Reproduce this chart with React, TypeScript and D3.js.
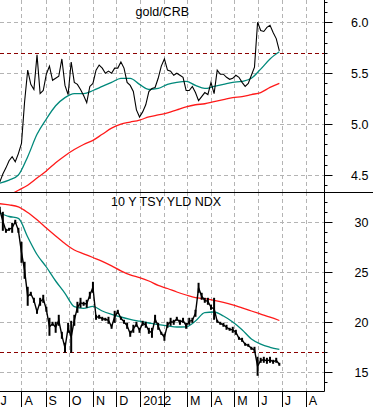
import React, { useEffect, useRef } from 'react';
import * as d3 from 'd3';

const size = { width: 373, height: 407 };
const plotRight = 324;
const topPanel = { top: 0, bottom: 192 };
const bottomPanel = { top: 192, bottom: 391 };

// daily series read every 4 calendar days from 4 Jul 2011, averages every 12 days
const seriesStart = { y: 2011, m: 6, d: 4 };
const dailyStep = 4;
const maStep = 12;

const goldCrb = [
  4.43, 4.51, 4.57, 4.64, 4.68, 4.63, 4.71, 4.81, 5.22, 5.53,
  5.39, 5.34, 5.68, 5.30, 5.33, 5.49, 5.57, 5.43, 5.45, 5.47,
  5.64, 5.38, 5.29, 5.61, 5.41, 5.39, 5.34, 5.28, 5.21, 5.37,
  5.40, 5.53, 5.58, 5.55, 5.50, 5.52, 5.50, 5.55, 5.55, 5.61,
  5.55, 5.41, 5.38, 5.32, 5.14, 5.07, 5.12, 5.19, 5.32, 5.35,
  5.36, 5.45, 5.57, 5.64, 5.53, 5.52, 5.48, 5.50, 5.48, 5.46,
  5.33, 5.33, 5.37, 5.31, 5.23, 5.27, 5.31, 5.29, 5.41, 5.30,
  5.53, 5.49, 5.49, 5.46, 5.44, 5.45, 5.48, 5.46, 5.41, 5.37,
  5.40, 5.48, 5.56, 6.00, 5.92, 5.91, 5.95, 5.97, 5.90, 5.84,
  5.72,
];
const goldCrbMa50 = [
  4.42, 4.45, 4.50, 4.68, 4.90, 5.05, 5.18, 5.26, 5.30, 5.30,
  5.33, 5.37, 5.41, 5.45, 5.45, 5.39, 5.34, 5.35, 5.39, 5.41,
  5.42, 5.38, 5.35, 5.37, 5.39, 5.41, 5.42, 5.45, 5.54, 5.64,
  5.71,
];
const goldCrbMa200 = [
  null, 4.30, 4.35, 4.40, 4.47, 4.54, 4.62, 4.69, 4.75, 4.80,
  4.84, 4.90, 4.96, 5.00, 5.02, 5.04, 5.07, 5.09, 5.11, 5.14,
  5.17, 5.19, 5.20, 5.22, 5.24, 5.26, 5.27, 5.29, 5.31, 5.36,
  5.40,
];

const tsyHigh = [
  31.5, 31.0, 29.3, 29.4, 29.9, 30.2, 29.4, 28.0, 26.0, 23.5,
  23.0, 22.4, 21.2, 22.4, 22.7, 21.5, 20.4, 20.0, 20.0, 20.7,
  19.0, 17.9, 19.9, 20.1, 20.7, 22.0, 22.4, 22.0, 22.2, 23.0,
  24.0, 20.7, 20.7, 20.5, 20.4, 20.5, 19.7, 21.1, 21.2, 20.5,
  20.2, 19.9, 19.1, 19.7, 20.0, 19.4, 20.1, 20.0, 19.4, 19.4,
  20.7, 19.9, 19.0, 18.8, 20.0, 20.4, 20.2, 20.5, 20.2, 20.4,
  19.9, 20.4, 20.4, 21.2, 23.9, 22.9, 22.4, 22.4, 21.7, 22.4,
  20.2, 20.0, 19.9, 19.7, 19.4, 19.5, 19.2, 18.5, 18.4, 17.9,
  17.8, 17.5, 17.5, 16.5, 16.4, 16.5, 16.4, 16.5, 16.2, 16.4,
  15.9,
];
const tsyLow = [
  31.0, 29.2, 29.0, 29.2, 29.0, 29.9, 29.0, 26.0, 24.4, 21.7,
  22.7, 22.0, 20.9, 21.7, 22.0, 21.1, 18.7, 19.7, 19.0, 19.7,
  18.4, 17.0, 19.0, 17.0, 19.7, 21.0, 21.5, 21.7, 21.5, 22.4,
  23.0, 20.3, 20.4, 20.2, 20.2, 19.9, 19.4, 20.0, 20.9, 20.3,
  19.9, 19.4, 18.6, 19.0, 19.6, 19.0, 19.7, 19.5, 18.9, 18.5,
  20.0, 19.3, 18.8, 18.2, 19.5, 19.7, 19.8, 20.2, 19.8, 20.0,
  19.4, 19.8, 20.0, 20.6, 23.0, 22.3, 22.0, 21.8, 21.3, 20.3,
  20.0, 19.8, 19.6, 19.3, 19.2, 19.0, 18.8, 18.3, 18.1, 17.7,
  17.6, 17.3, 17.0, 14.7, 16.0, 16.0, 15.9, 16.0, 15.9, 16.0,
  15.7,
];
const tsyMa50 = [
  30.93, 30.58, 30.40, 28.53, 26.78, 25.53, 24.13, 22.90, 21.57, 21.40,
  21.59, 21.13, 20.80, 20.53, 20.30, 20.11, 19.93, 19.76, 19.65, 19.53,
  19.55, 20.13, 20.97, 21.03, 20.63, 20.03, 19.26, 18.33, 17.81, 17.50,
  17.29,
];
const tsyMa200 = [
  31.86, 31.74, 31.55, 30.98, 30.25, 29.43, 28.63, 27.87, 27.23, 26.85,
  26.48, 26.10, 25.65, 25.15, 24.74, 24.47, 24.13, 23.69, 23.38, 23.03,
  22.73, 22.47, 22.36, 22.20, 22.00, 21.75, 21.44, 21.13, 20.82, 20.51,
  20.18,
];

const goldTicks = [4.5, 5.0, 5.5, 6.0];
const tsyTicks = [15, 20, 25, 30];
const goldLevel = 5.7;
const tsyLevel = 17;
const monthLabels = ['J', 'A', 'S', 'O', 'N', 'D', '2012', '', 'M', 'A', 'M', 'J', 'J', 'A'];

const font = 'Liberation Sans, Arial, sans-serif';
const gridColor = '#b4b4b4';
const maFastColor = '#00897b';
const maSlowColor = '#ff1a1a';
const levelColor = '#8b0000';

const dateAt = (i: number, step: number) => new Date(seriesStart.y, seriesStart.m, seriesStart.d + i * step);

function drawChart(svg: any) {
  const x = d3.scaleTime()
    .domain([new Date(2011, 6, 4, 8), new Date(2012, 7, 24, 12)])
    .range([0, plotRight]);
  const yGold = d3.scaleLinear().domain([4.5, 6.0]).range([175, 22.3]);
  const yTsy = d3.scaleLinear().domain([15, 30]).range([372.3, 222.3]);
  const months = d3.timeMonth.range(new Date(2011, 6, 1), new Date(2012, 8, 1));

  svg.append('rect').attr('width', size.width).attr('height', size.height).attr('fill', '#fff');

  const defs = svg.append('defs');
  defs.append('clipPath').attr('id', 'clip-top')
    .append('rect').attr('x', 0).attr('y', topPanel.top).attr('width', plotRight).attr('height', topPanel.bottom - topPanel.top);
  defs.append('clipPath').attr('id', 'clip-bottom')
    .append('rect').attr('x', 0).attr('y', bottomPanel.top).attr('width', plotRight).attr('height', bottomPanel.bottom - bottomPanel.top);

  const panels = [
    { key: 'top', panel: topPanel, y: yGold, ticks: goldTicks, minor: d3.range(44, 63).map(v => v / 10), level: goldLevel, fmt: d3.format('.1f') },
    { key: 'bottom', panel: bottomPanel, y: yTsy, ticks: tsyTicks, minor: d3.range(14, 33), level: tsyLevel, fmt: d3.format('d') },
  ];

  panels.forEach((p) => {
    const g = svg.append('g').attr('clip-path', `url(#clip-${p.key})`);
    // grid
    g.selectAll('.vgrid').data(months).enter().append('line')
      .attr('x1', (d: Date) => Math.round(x(d)) + 0.5).attr('x2', (d: Date) => Math.round(x(d)) + 0.5)
      .attr('y1', p.panel.top).attr('y2', p.panel.bottom)
      .attr('stroke', gridColor).attr('stroke-dasharray', '4,3');
    g.selectAll('.hgrid').data(p.ticks).enter().append('line')
      .attr('x1', 0).attr('x2', plotRight)
      .attr('y1', (d: number) => Math.round(p.y(d)) + 0.5).attr('y2', (d: number) => Math.round(p.y(d)) + 0.5)
      .attr('stroke', gridColor).attr('stroke-dasharray', '4,3');
    g.append('line')
      .attr('x1', 0).attr('x2', plotRight)
      .attr('y1', Math.round(p.y(p.level)) + 0.5).attr('y2', Math.round(p.y(p.level)) + 0.5)
      .attr('stroke', levelColor).attr('stroke-width', 1.2).attr('stroke-dasharray', '4,3');

    // right axis ticks + labels
    svg.selectAll(`.minor-${p.key}`).data(p.minor).enter().append('line')
      .attr('x1', plotRight).attr('x2', plotRight + 3.5)
      .attr('y1', (d: number) => Math.round(p.y(d)) + 0.5).attr('y2', (d: number) => Math.round(p.y(d)) + 0.5)
      .attr('stroke', '#000');
    svg.selectAll(`.major-${p.key}`).data(p.ticks).enter().append('line')
      .attr('x1', plotRight).attr('x2', plotRight + 8.5)
      .attr('y1', (d: number) => Math.round(p.y(d)) + 0.5).attr('y2', (d: number) => Math.round(p.y(d)) + 0.5)
      .attr('stroke', '#000');
    svg.selectAll(`.label-${p.key}`).data(p.ticks).enter().append('text')
      .attr('x', 368.5).attr('y', (d: number) => p.y(d) + 5)
      .attr('text-anchor', 'end')
      .style('font', `12.5px ${font}`)
      .attr('fill', '#000')
      .text((d: number) => p.fmt(d));
  });

  // top panel: gold/CRB
  const gTop = svg.append('g').attr('clip-path', 'url(#clip-top)');
  const maLine = (y: any) => d3.line<any>()
    .defined((d: number | null) => d !== null)
    .x((d: any, i: number) => x(dateAt(i, maStep)))
    .y((d: number) => y(d))
    .curve(d3.curveMonotoneX);

  gTop.append('path').datum(goldCrbMa200).attr('d', maLine(yGold))
    .attr('fill', 'none').attr('stroke', maSlowColor).attr('stroke-width', 1.3);
  gTop.append('path').datum(goldCrbMa50).attr('d', maLine(yGold))
    .attr('fill', 'none').attr('stroke', maFastColor).attr('stroke-width', 1.3);
  gTop.append('path').datum(goldCrb)
    .attr('d', d3.line<number>().x((d, i) => x(dateAt(i, dailyStep))).y(d => yGold(d)))
    .attr('fill', 'none').attr('stroke', '#000').attr('stroke-width', 1.1);

  // bottom panel: 10y yield
  const gBot = svg.append('g').attr('clip-path', 'url(#clip-bottom)');
  gBot.append('path').datum(tsyMa200).attr('d', maLine(yTsy))
    .attr('fill', 'none').attr('stroke', maSlowColor).attr('stroke-width', 1.3);
  gBot.append('path').datum(tsyMa50).attr('d', maLine(yTsy))
    .attr('fill', 'none').attr('stroke', maFastColor).attr('stroke-width', 1.3);
  const tsyMid = tsyHigh.map((h, i) => (h + tsyLow[i]) / 2);
  gBot.append('path').datum(tsyMid)
    .attr('d', d3.line<number>().x((d, i) => x(dateAt(i, dailyStep))).y(d => yTsy(d)))
    .attr('fill', 'none').attr('stroke', '#000').attr('stroke-width', 1.4);
  gBot.selectAll('.bar').data(tsyHigh).enter().append('line')
    .attr('x1', (d: number, i: number) => x(dateAt(i, dailyStep)))
    .attr('x2', (d: number, i: number) => x(dateAt(i, dailyStep)))
    .attr('y1', (d: number) => yTsy(d) - 0.5)
    .attr('y2', (d: number, i: number) => yTsy(tsyLow[i]) + 0.5)
    .attr('stroke', '#000').attr('stroke-width', 2);

  // frame lines
  svg.append('line').attr('x1', plotRight + 0.5).attr('x2', plotRight + 0.5)
    .attr('y1', 0).attr('y2', bottomPanel.bottom + 0.5).attr('stroke', '#000');
  svg.append('line').attr('x1', 0).attr('x2', size.width)
    .attr('y1', topPanel.bottom + 0.5).attr('y2', topPanel.bottom + 0.5).attr('stroke', '#000');
  svg.append('line').attr('x1', 0).attr('x2', plotRight + 0.5)
    .attr('y1', bottomPanel.bottom + 0.5).attr('y2', bottomPanel.bottom + 0.5).attr('stroke', '#000');

  // month ticks and labels
  svg.selectAll('.mtick').data(months).enter().append('line')
    .attr('x1', (d: Date) => Math.round(x(d)) + 0.5).attr('x2', (d: Date) => Math.round(x(d)) + 0.5)
    .attr('y1', bottomPanel.bottom).attr('y2', size.height)
    .attr('stroke', '#000');
  svg.selectAll('.mlabel').data(months).enter().append('text')
    .attr('x', (d: Date) => x(d) + 3)
    .attr('y', 405)
    .style('font', `12.5px ${font}`)
    .attr('fill', '#000')
    .text((d: Date, i: number) => monthLabels[i]);

  // titles
  svg.append('text').attr('x', 135.5).attr('y', 16)
    .style('font', `12.5px ${font}`).attr('fill', '#000').text('gold/CRB');
  svg.append('text').attr('x', 111).attr('y', 206)
    .style('font', `12.5px ${font}`).attr('fill', '#000').text('10 Y TSY YLD NDX');
}

export default function App() {
  const ref = useRef<SVGSVGElement>(null);

  useEffect(() => {
    const svg = d3.select(ref.current);
    svg.selectAll('*').remove();
    drawChart(svg);
  }, []);

  return (
    <svg
      ref={ref}
      width={size.width}
      height={size.height}
      style={{ position: 'absolute', left: 0, top: 0 }}
    />
  );
}
